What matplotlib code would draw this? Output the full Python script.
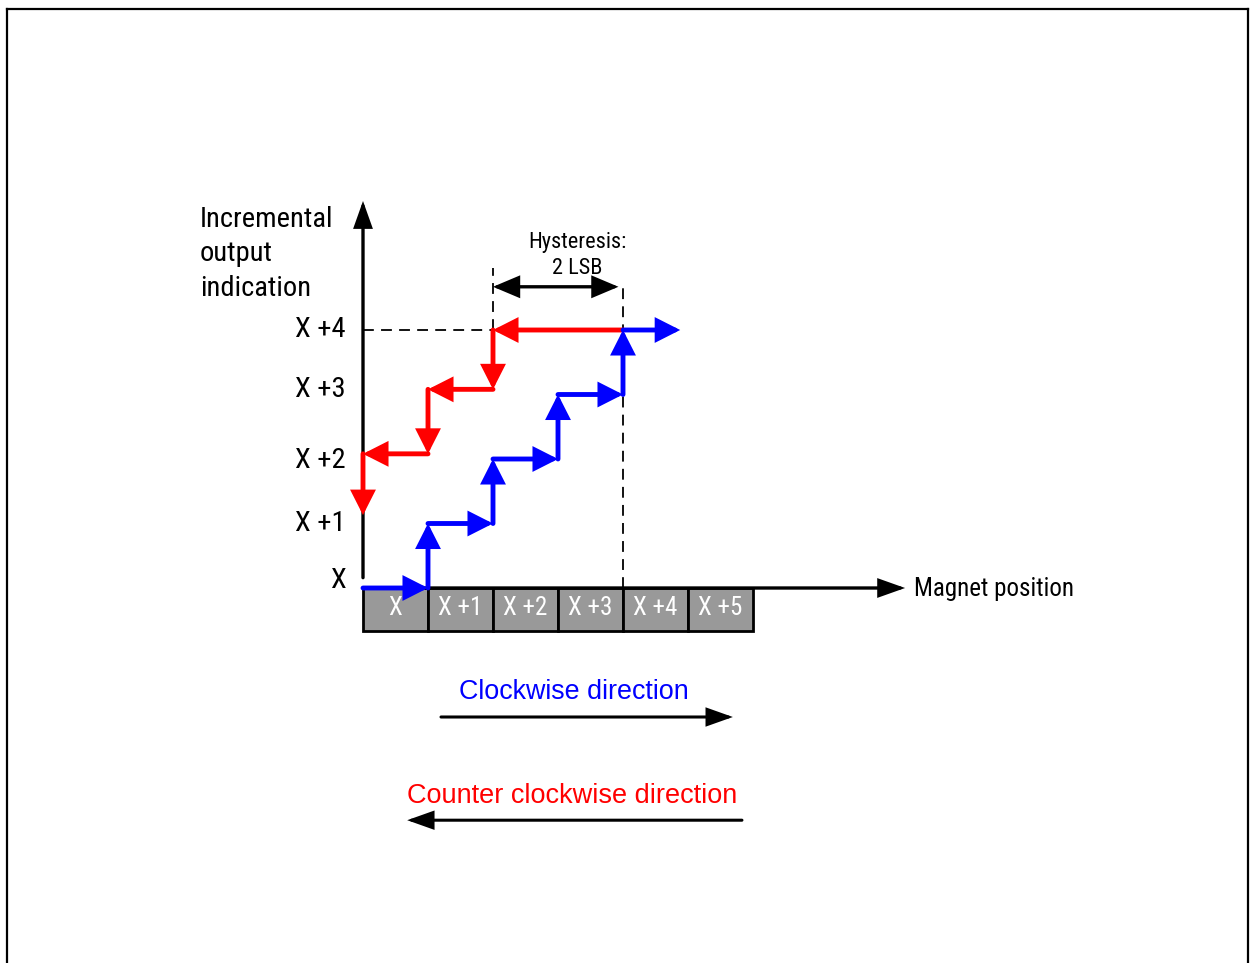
import matplotlib.pyplot as plt
from matplotlib.lines import Line2D
from matplotlib.patches import Rectangle

# chart units: x = magnet position (cells), y = output level (LSB above X)
cell_labels = ["X", "X +1", "X +2", "X +3", "X +4", "X +5"]
level_labels = ["X", "X +1", "X +2", "X +3", "X +4"]
level_label_y = [0.12, 1.0, 1.98, 3.07, 4.0]

# clockwise path (blue), each pair of points is one arrow
blue_x = [0, 1, 1, 2, 2, 3, 3, 4, 4, 4.88]
blue_y = [0, 0, 1, 1, 2, 2, 3, 3, 4, 4]

# counter clockwise path (red)
red_x = [4, 2, 2, 1, 1, 0, 0]
red_y = [4, 4, 3.08, 3.08, 2.08, 2.08, 1.13]

hyst_from, hyst_to = 2, 3.93
top_level = 4

BLUE = "#0000ff"
RED = "#ff0000"
NARROW = ["Roboto Condensed", "Liberation Sans", "DejaVu Sans"]
ARIAL = ["Liberation Sans", "DejaVu Sans"]

W, H = 1250, 963
X0, Y0 = 363, 588        # pixel of origin
XU, YU = 65.0, 64.5      # pixels per unit

fig = plt.figure(figsize=(W / 100, H / 100), dpi=100)
ax = fig.add_axes([0, 0, 1, 1])
ax.set_xlim(-X0 / XU, (W - X0) / XU)
ax.set_ylim(-(H - Y0) / YU, Y0 / YU)
ax.axis("off")

# page border (top, left, right)
fig.add_artist(Line2D([7 / W, 7 / W], [0, 1 - 9 / H], color="black", lw=1.6))
fig.add_artist(Line2D([1248 / W, 1248 / W], [0, 1 - 9 / H], color="black", lw=1.6))
fig.add_artist(Line2D([7 / W, 1248 / W], [1 - 9 / H, 1 - 9 / H], color="black", lw=1.6))


def arrow(x1, y1, x2, y2, color, lw, style="-|>", hl=0.8, hw=0.35, ms=16, z=3):
    ax.annotate("", xy=(x2, y2), xytext=(x1, y1),
                arrowprops=dict(arrowstyle=f"{style},head_length={hl},head_width={hw}",
                                mutation_scale=ms, color=color, lw=lw,
                                shrinkA=0, shrinkB=0, joinstyle="miter"),
                zorder=z)


# position cells
for i, lab in enumerate(cell_labels):
    ax.add_patch(Rectangle((i, -0.667), 1, 0.667, facecolor="#999999",
                           edgecolor="black", lw=2, zorder=2))
    ax.text(i + 0.5, -0.31, lab, color="white", fontsize=18, family=NARROW,
            ha="center", va="center", zorder=3)

# axes
arrow(0, 0, 8.34, 0, "black", 2.4, hl=0.9, hw=0.32, ms=17, z=2)
arrow(0, 0.16, 0, 6.0, "black", 2.4, hl=0.9, hw=0.32, ms=17, z=2)

ax.text(8.48, -0.02, "Magnet position", fontsize=18, family=NARROW,
        ha="left", va="center")
for yy, txt in zip([5.72, 5.18, 4.64], ["Incremental", "output", "indication"]):
    ax.text(-2.51, yy, txt, fontsize=20.5, family=NARROW, ha="left", va="center")
for yy, lab in zip(level_label_y, level_labels):
    ax.text(-0.26, yy, lab, fontsize=20.5, family=NARROW, ha="right", va="center")

# dashed guides
ax.plot([0, 2], [top_level, top_level], color="black", lw=1.3, ls=(0, (6, 4)), zorder=1)
ax.plot([2, 2], [top_level, 4.96], color="black", lw=1.3, ls=(0, (6, 4)), zorder=1)
ax.plot([4, 4], [0, 4.65], color="black", lw=1.3, ls=(0, (6, 4)), zorder=1)

# hysteresis span
arrow(hyst_from, 4.67, hyst_to, 4.67, "black", 2.4, style="<|-|>", hl=0.9, hw=0.38, ms=17)
ax.text(3.3, 5.36, "Hysteresis:", fontsize=16, family=NARROW, ha="center", va="center")
ax.text(3.3, 4.96, "2 LSB", fontsize=16, family=NARROW, ha="center", va="center")

# step paths
for i in range(len(red_x) - 1):
    arrow(red_x[i], red_y[i], red_x[i + 1], red_y[i + 1], RED, 3.5, hl=0.75, hw=0.38, ms=17, z=4)
for i in range(len(blue_x) - 1):
    arrow(blue_x[i], blue_y[i], blue_x[i + 1], blue_y[i + 1], BLUE, 3.5, hl=0.75, hw=0.38, ms=17, z=5)

# direction legend
ax.text(3.25, -1.61, "Clockwise direction", color=BLUE, fontsize=19.4, family=ARIAL,
        ha="center", va="center")
arrow(1.2, -2.0, 5.69, -2.0, "black", 2.2, hl=0.9, hw=0.32, ms=17)
ax.text(3.22, -3.22, "Counter clockwise direction", color=RED, fontsize=19.5, family=ARIAL,
        ha="center", va="center")
arrow(5.83, -3.6, 0.68, -3.6, "black", 2.2, hl=0.9, hw=0.32, ms=17)

fig.savefig("out.png", dpi=100)
